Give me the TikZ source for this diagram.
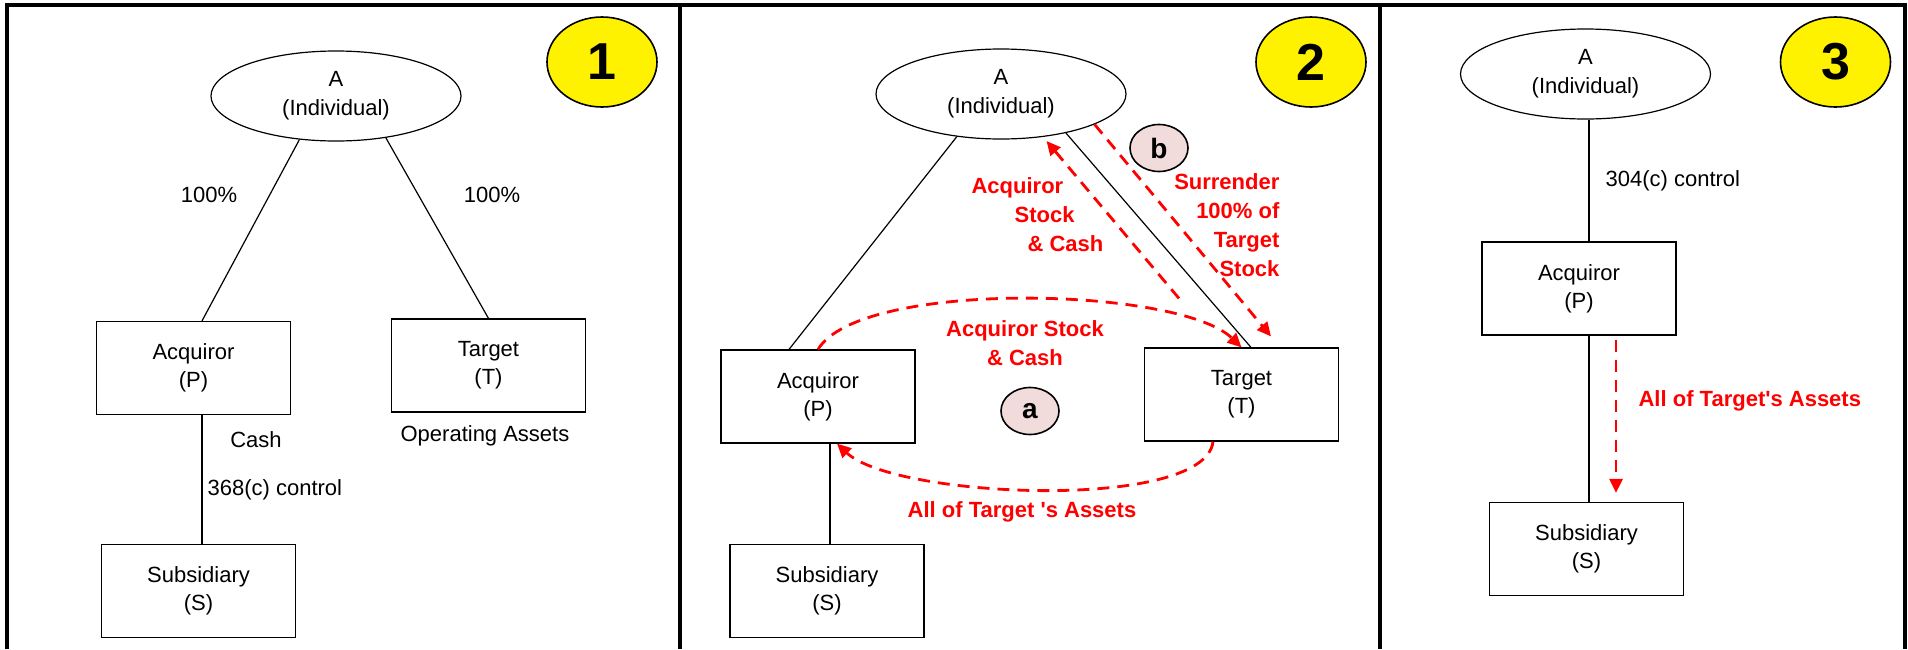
\documentclass[tikz,border=0pt]{standalone}
\usepackage{fontspec}
\setmainfont{Liberation Sans}
\usetikzlibrary{shapes.geometric,arrows.meta}

\definecolor{tagpink}{HTML}{F2DCDB}

\tikzset{
  box node/.style={rectangle, draw, minimum width=97pt, minimum height=46.5pt,
                   inner sep=0pt, align=center, font=\fontsize{11pt}{14pt}\selectfont},
  owner node/.style={ellipse, draw, minimum width=125pt, minimum height=45pt,
                     inner sep=0pt, align=center, font=\fontsize{11pt}{14.5pt}\selectfont},
  step node/.style={ellipse, draw, fill=yellow, line width=0.8pt, minimum width=55pt,
                    minimum height=45pt, inner sep=0pt, font=\fontsize{26pt}{26pt}\selectfont\bfseries},
  tag node/.style={ellipse, draw, fill=tagpink, line width=0.8pt, minimum width=29pt,
                   minimum height=23.5pt, inner sep=0pt, font=\fontsize{14pt}{14pt}\selectfont\bfseries},
  plain label/.style={inner sep=0pt, font=\fontsize{11pt}{14pt}\selectfont},
  red label/.style={inner sep=0pt, text=red, font=\fontsize{11pt}{14.5pt}\selectfont\bfseries},
  red arrow/.style={draw=red, line width=1.4pt, dash pattern=on 6pt off 4pt,
                    -{Triangle[length=7pt,width=6.5pt]}}
}

\begin{document}
\begin{tikzpicture}[x=0.5pt,y=-0.5pt,line width=0.6pt]
  \useasboundingbox (0,0) rectangle (1908,649);

  %Frame%
  \draw[line width=2pt] (7,649) -- (7,5) -- (1905,5) -- (1905,649);
  \draw[line width=2pt] (680,5) -- (680,649);
  \draw[line width=2pt] (1380,5) -- (1380,649);

  %Panel 1%
  \node[owner node] (a1) at (336,96) {A\\(Individual)};
  \node[step node] (n1) at (602,62) {1};
  \node[box node] (p1) at (193.5,368) {Acquiror\\(P)};
  \node[box node] (t1) at (488.5,365.5) {Target\\(T)};
  \node[box node] (s1) at (198.5,591) {Subsidiary\\(S)};
  \node[plain label] (o1) at (209,195) {100\%};
  \node[plain label] (o2) at (492,195) {100\%};
  \node[plain label] (c1) at (256,440) {Cash};
  \node[plain label, anchor=west] (c2) at (207,490) {368(c) control};
  \node[plain label] (c3) at (485,436) {Operating Assets};

  \path
    (a1.230) edge ([xshift=4.25pt]p1.north)
    (a1.320) edge (t1.north)
    ([xshift=4.25pt]p1.south) edge ([xshift=4.25pt]p1.south |- s1.north);

  %Panel 2%
  \node[owner node] (a2) at (1001,94) {A\\(Individual)};
  \node[step node] (n2) at (1311,62) {2};
  \node[box node] (p2) at (818,396.5) {Acquiror\\(P)};
  \node[box node] (t2) at (1241.5,394.5) {Target\\(T)};
  \node[box node] (s2) at (827,591) {Subsidiary\\(S)};
  \node[tag node] (tb) at (1159,148) {b};
  \node[tag node] (ta) at (1030,411) {a};
  \node[red label, align=left, anchor=west] (r1) at (971,215)
    {Acquiror\\\hspace*{21.5pt}Stock\\\hspace*{28pt}\& Cash};
  \node[red label, align=right, anchor=east] (r2) at (1280,225)
    {Surrender\\100\% of\\Target\\Stock};
  \node[red label, align=center] (r3) at (1025,343) {Acquiror Stock\\\& Cash};
  \node[red label] (r4) at (1022,512) {All of Target \textquotesingle s Assets};

  \path
    (a2.224) edge ([xshift=-14.5pt]p2.north)
    (a2.329) edge ([xshift=4.75pt]t2.north)
    ([xshift=6pt]p2.south) edge ([xshift=6pt]p2.south |- s2.north);

  \draw[red arrow] ([shift={(-31.25pt,24.5pt)}]t2.north) -- ([shift={(2pt,-2pt)}]a2.314);
  \draw[red arrow] (a2.342) -- ([shift={(14.75pt,5.5pt)}]t2.north);
  \draw[red arrow] (p2.north) .. controls +(42,-70) and +(-63,-61) .. (t2.north);
  \draw[red arrow] ([xshift=-14.25pt]t2.south) .. controls +(-8,70) and +(58,55) .. ([xshift=9.5pt]p2.south);

  %Panel 3%
  \node[owner node] (a3) at (1585.5,74) {A\\(Individual)};
  \node[step node] (n3) at (1835.5,62) {3};
  \node[box node] (p3) at (1579,288.5) {Acquiror\\(P)};
  \node[box node] (s3) at (1586.5,549) {Subsidiary\\(S)};
  \node[plain label, anchor=west] (c4) at (1605,181) {304(c) control};
  \node[red label, anchor=west] (r5) at (1638,401) {All of Target\textquotesingle s Assets};

  \path
    ([xshift=1.75pt]a3.south) edge ([xshift=1.75pt]a3.south |- p3.north)
    ([xshift=1.75pt]a3.south |- p3.south) edge ([xshift=1.75pt]a3.south |- s3.north);

  \draw[red arrow, shorten <=2pt, shorten >=4.5pt]
    ([xshift=18.5pt]p3.south) -- ([xshift=18.5pt]p3.south |- s3.north);
\end{tikzpicture}
\end{document}
